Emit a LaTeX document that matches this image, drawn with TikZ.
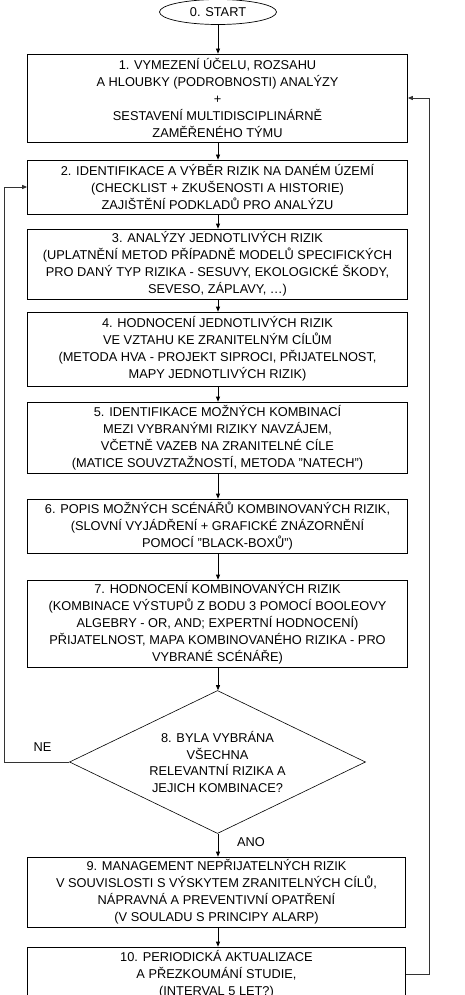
\documentclass[tikz,border=0pt]{standalone}
\usepackage{fontspec}
\setmainfont{Liberation Sans}
\usetikzlibrary{shapes.geometric,arrows.meta}
\tikzset{
  box/.style={draw, line width=0.7pt, rectangle, minimum width=380pt, align=center, inner sep=0pt, font=\fontsize{12.8}{17}\selectfont},
  arr/.style={line width=0.7pt, -{Triangle[length=5pt,width=4pt]}},
  fb/.style={line width=0.9pt, draw=black!80, -{Triangle[length=5pt,width=4pt]}},
  lbl/.style={font=\fontsize{12.8}{17}\selectfont, inner sep=0pt},
}
\begin{document}
\begin{tikzpicture}[x=1pt,y=-1pt]
\useasboundingbox (0,0) rectangle (464,995);
\clip (0,0) rectangle (464,995);
\node[draw, line width=0.7pt, ellipse, minimum width=117pt, minimum height=25pt, inner sep=0pt, font=\fontsize{12.8}{17}\selectfont] (s) at (218,12) {0. START};
\node[box, minimum height=88pt] (b1) at (217.5,98) {1. VYMEZENÍ ÚČELU, ROZSAHU\\A HLOUBKY (PODROBNOSTI) ANALÝZY\\+\\SESTAVENÍ MULTIDISCIPLINÁRNĚ\\ZAMĚŘENÉHO TÝMU};
\node[box, minimum height=54pt] (b2) at (217.5,187) {2. IDENTIFIKACE A VÝBĚR RIZIK NA DANÉM ÚZEMÍ\\(CHECKLIST + ZKUŠENOSTI A HISTORIE)\\ZAJIŠTĚNÍ PODKLADŮ PRO ANALÝZU};
\node[box, minimum height=70pt] (b3) at (217.5,264) {3. ANALÝZY JEDNOTLIVÝCH RIZIK\\(UPLATNĚNÍ METOD PŘÍPADNĚ MODELŮ SPECIFICKÝCH\\PRO DANÝ TYP RIZIKA - SESUVY, EKOLOGICKÉ ŠKODY,\\SEVESO, ZÁPLAVY, …)};
\node[box, minimum height=74pt] (b4) at (217.5,349) {4. HODNOCENÍ JEDNOTLIVÝCH RIZIK\\VE VZTAHU KE ZRANITELNÝM CÍLŮM\\(METODA HVA - PROJEKT SIPROCI, PŘIJATELNOST,\\MAPY JEDNOTLIVÝCH RIZIK)};
\node[box, minimum height=71pt] (b5) at (217.5,437.5) {5. IDENTIFIKACE MOŽNÝCH KOMBINACÍ\\MEZI VYBRANÝMI RIZIKY NAVZÁJEM,\\VČETNĚ VAZEB NA ZRANITELNÉ CÍLE\\(MATICE SOUVZTAŽNOSTÍ, METODA "NATECH")};
\node[box, minimum height=54pt] (b6) at (217.5,526) {6. POPIS MOŽNÝCH SCÉNÁŘŮ KOMBINOVANÝCH RIZIK,\\(SLOVNÍ VYJÁDŘENÍ + GRAFICKÉ ZNÁZORNĚNÍ\\POMOCÍ "BLACK-BOXŮ")};
\node[box, minimum height=87pt] (b7) at (217.5,623.5) {7. HODNOCENÍ KOMBINOVANÝCH RIZIK\\(KOMBINACE VÝSTUPŮ Z BODU 3 POMOCÍ BOOLEOVY\\ALGEBRY - OR, AND; EXPERTNÍ HODNOCENÍ)\\PŘIJATELNOST, MAPA KOMBINOVANÉHO RIZIKA - PRO\\VYBRANÉ SCÉNÁŘE)};
\node[draw, line width=0.6pt, diamond, aspect=2.07, minimum width=296pt, minimum height=143pt, inner sep=0pt, align=center, font=\fontsize{12.8}{16.5}\selectfont] (d) at (217.5,762) {8. BYLA VYBRÁNA\\VŠECHNA\hspace*{39pt}\\RELEVANTNÍ RIZIKA A\\JEJICH KOMBINACE?};
\node[box, minimum width=378pt, minimum height=70pt] (b9) at (216.5,892) {9. MANAGEMENT NEPŘIJATELNÝCH RIZIK\\V SOUVISLOSTI S VÝSKYTEM ZRANITELNÝCH CÍLŮ,\\NÁPRAVNÁ A PREVENTIVNÍ OPATŘENÍ\\(V SOULADU S PRINCIPY ALARP)};
\node[box, minimum width=378pt, minimum height=54pt] (b10) at (216.5,974) {10. PERIODICKÁ AKTUALIZACE\\A PŘEZKOUMÁNÍ STUDIE,\\(INTERVAL 5 LET?)};
\node[lbl] (ne) at (42.5,747) {NE};
\node[lbl] (ano) at (251,842) {ANO};
\coordinate (lx) at (4,0);
\coordinate (rx) at (429,0);
\draw[arr] (s.south) -- (s.south |- b1.north);
\draw[arr] (b1.south -| s.south) -- (s.south |- b2.north);
\draw[arr] (b2.south -| s.south) -- (s.south |- b3.north);
\draw[arr] (b3.south -| s.south) -- (s.south |- b4.north);
\draw[arr] (b4.south -| s.south) -- (s.south |- b5.north);
\draw[arr] (b5.south -| s.south) -- (s.south |- b6.north);
\draw[arr] (b6.south -| s.south) -- (s.south |- b7.north);
\draw[arr] (b7.south -| s.south) -- (s.south |- d.north);
\draw[arr] (d.south -| s.south) -- (s.south |- b9.north);
\draw[arr] (b9.south -| s.south) -- (s.south |- b10.north);
\draw[fb] (d.west) -- (d.west -| lx) -- (lx |- b2.west) -- (b2.west);
\draw[fb] (b10.east) -- (b10.east -| rx) -- (rx |- b1.east) -- (b1.east);
\end{tikzpicture}
\end{document}
